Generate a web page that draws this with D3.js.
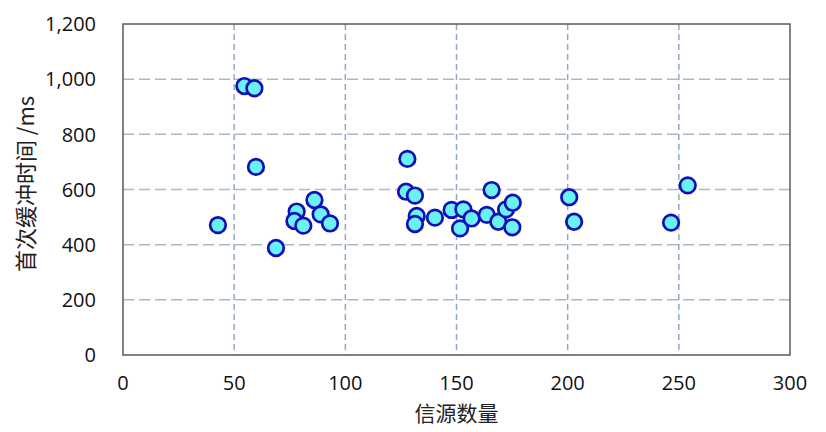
<!DOCTYPE html>
<html><head><meta charset="utf-8">
<script src="https://cdn.jsdelivr.net/npm/d3@7"></script>
<style>html,body{margin:0;padding:0;background:#fff;}svg{display:block;}</style>
</head><body>
<script>
const xTicks = [0, 50, 100, 150, 200, 250, 300];
const yTicks = [0, 200, 400, 600, 800, 1000, 1200];
const sources = [42.7, 54.6, 59.1, 59.8, 68.8, 78.1, 77.1, 81.1, 86.1, 88.9, 93.1,
  127.9, 127.3, 131.3, 132.1, 131.3, 140.3, 147.8, 153.1, 151.6, 156.8, 163.6, 165.8, 168.8, 172.3, 175.3, 175.1,
  200.7, 202.9, 246.5, 254.0];
const bufferMs = [471, 975, 967, 682, 388, 520, 486, 469, 562, 510, 477,
  711, 592, 578, 504, 475, 498, 526, 528, 459, 495, 508, 598, 483, 528, 552, 463,
  572, 483, 480, 615];
const xTitle = "信源数量";
const yTitle = "首次缓冲时间 /ms";

const W = 826, H = 432;
const m = {left: 123, top: 24, right: 790, bottom: 355};
const svg = d3.select("body").append("svg").attr("width", W).attr("height", H);
const x = d3.scaleLinear().domain([0, 300]).range([m.left, m.right]);
const y = d3.scaleLinear().domain([0, 1200]).range([m.bottom, m.top]);
const tickFont = "'Open Sans', sans-serif";

// horizontal grid
svg.append("g").selectAll("line").data(yTicks.filter(d => d > 0 && d < 1200)).join("line")
  .attr("x1", m.left).attr("x2", m.right)
  .attr("y1", d => y(d)).attr("y2", d => y(d))
  .attr("stroke", "#aab9cc").attr("stroke-width", 1.5).attr("stroke-dasharray", "11,5");
// vertical grid
svg.append("g").selectAll("line").data(xTicks.filter(d => d > 0 && d < 300)).join("line")
  .attr("y1", m.top).attr("y2", m.bottom)
  .attr("x1", d => x(d)).attr("x2", d => x(d))
  .attr("stroke", "#92a9c6").attr("stroke-width", 1.5).attr("stroke-dasharray", "6,4");
// frame
svg.append("rect").attr("x", m.left).attr("y", m.top)
  .attr("width", m.right - m.left).attr("height", m.bottom - m.top)
  .attr("fill", "none").attr("stroke", "#5a5a5a").attr("stroke-width", 1.5);

// y tick labels
const fmt = d3.format(",");
svg.append("g").selectAll("text").data(yTicks).join("text")
  .attr("x", 96).attr("y", d => y(d)).attr("dy", "0.36em")
  .attr("text-anchor", "end").attr("font-family", tickFont).attr("font-size", 20)
  .attr("fill", "#111").text(d => fmt(d));
// x tick labels
svg.append("g").selectAll("text").data(xTicks).join("text")
  .attr("x", d => x(d)).attr("y", 390)
  .attr("text-anchor", "middle").attr("font-family", tickFont).attr("font-size", 20)
  .attr("fill", "#111").text(d => d);

// titles
svg.append("text").attr("x", (m.left + m.right) / 2).attr("y", 421)
  .attr("text-anchor", "middle").attr("font-family", "'Noto Sans CJK SC', sans-serif")
  .attr("font-size", 21).attr("fill", "#222").text(xTitle);
svg.append("text").attr("transform", `translate(34,${184}) rotate(-90)`)
  .attr("text-anchor", "middle").attr("font-family", "'Noto Sans CJK SC', sans-serif")
  .attr("font-size", 22).attr("fill", "#222").text(yTitle);

// points
const pts = sources.map((s, i) => ({s, v: bufferMs[i]}));
svg.append("g").selectAll("circle").data(pts).join("circle")
  .attr("cx", d => x(d.s)).attr("cy", d => y(d.v)).attr("r", 7.8)
  .attr("fill", "#6af1f3").attr("stroke", "#1010b8").attr("stroke-width", 2.7);
</script>
</body></html>
